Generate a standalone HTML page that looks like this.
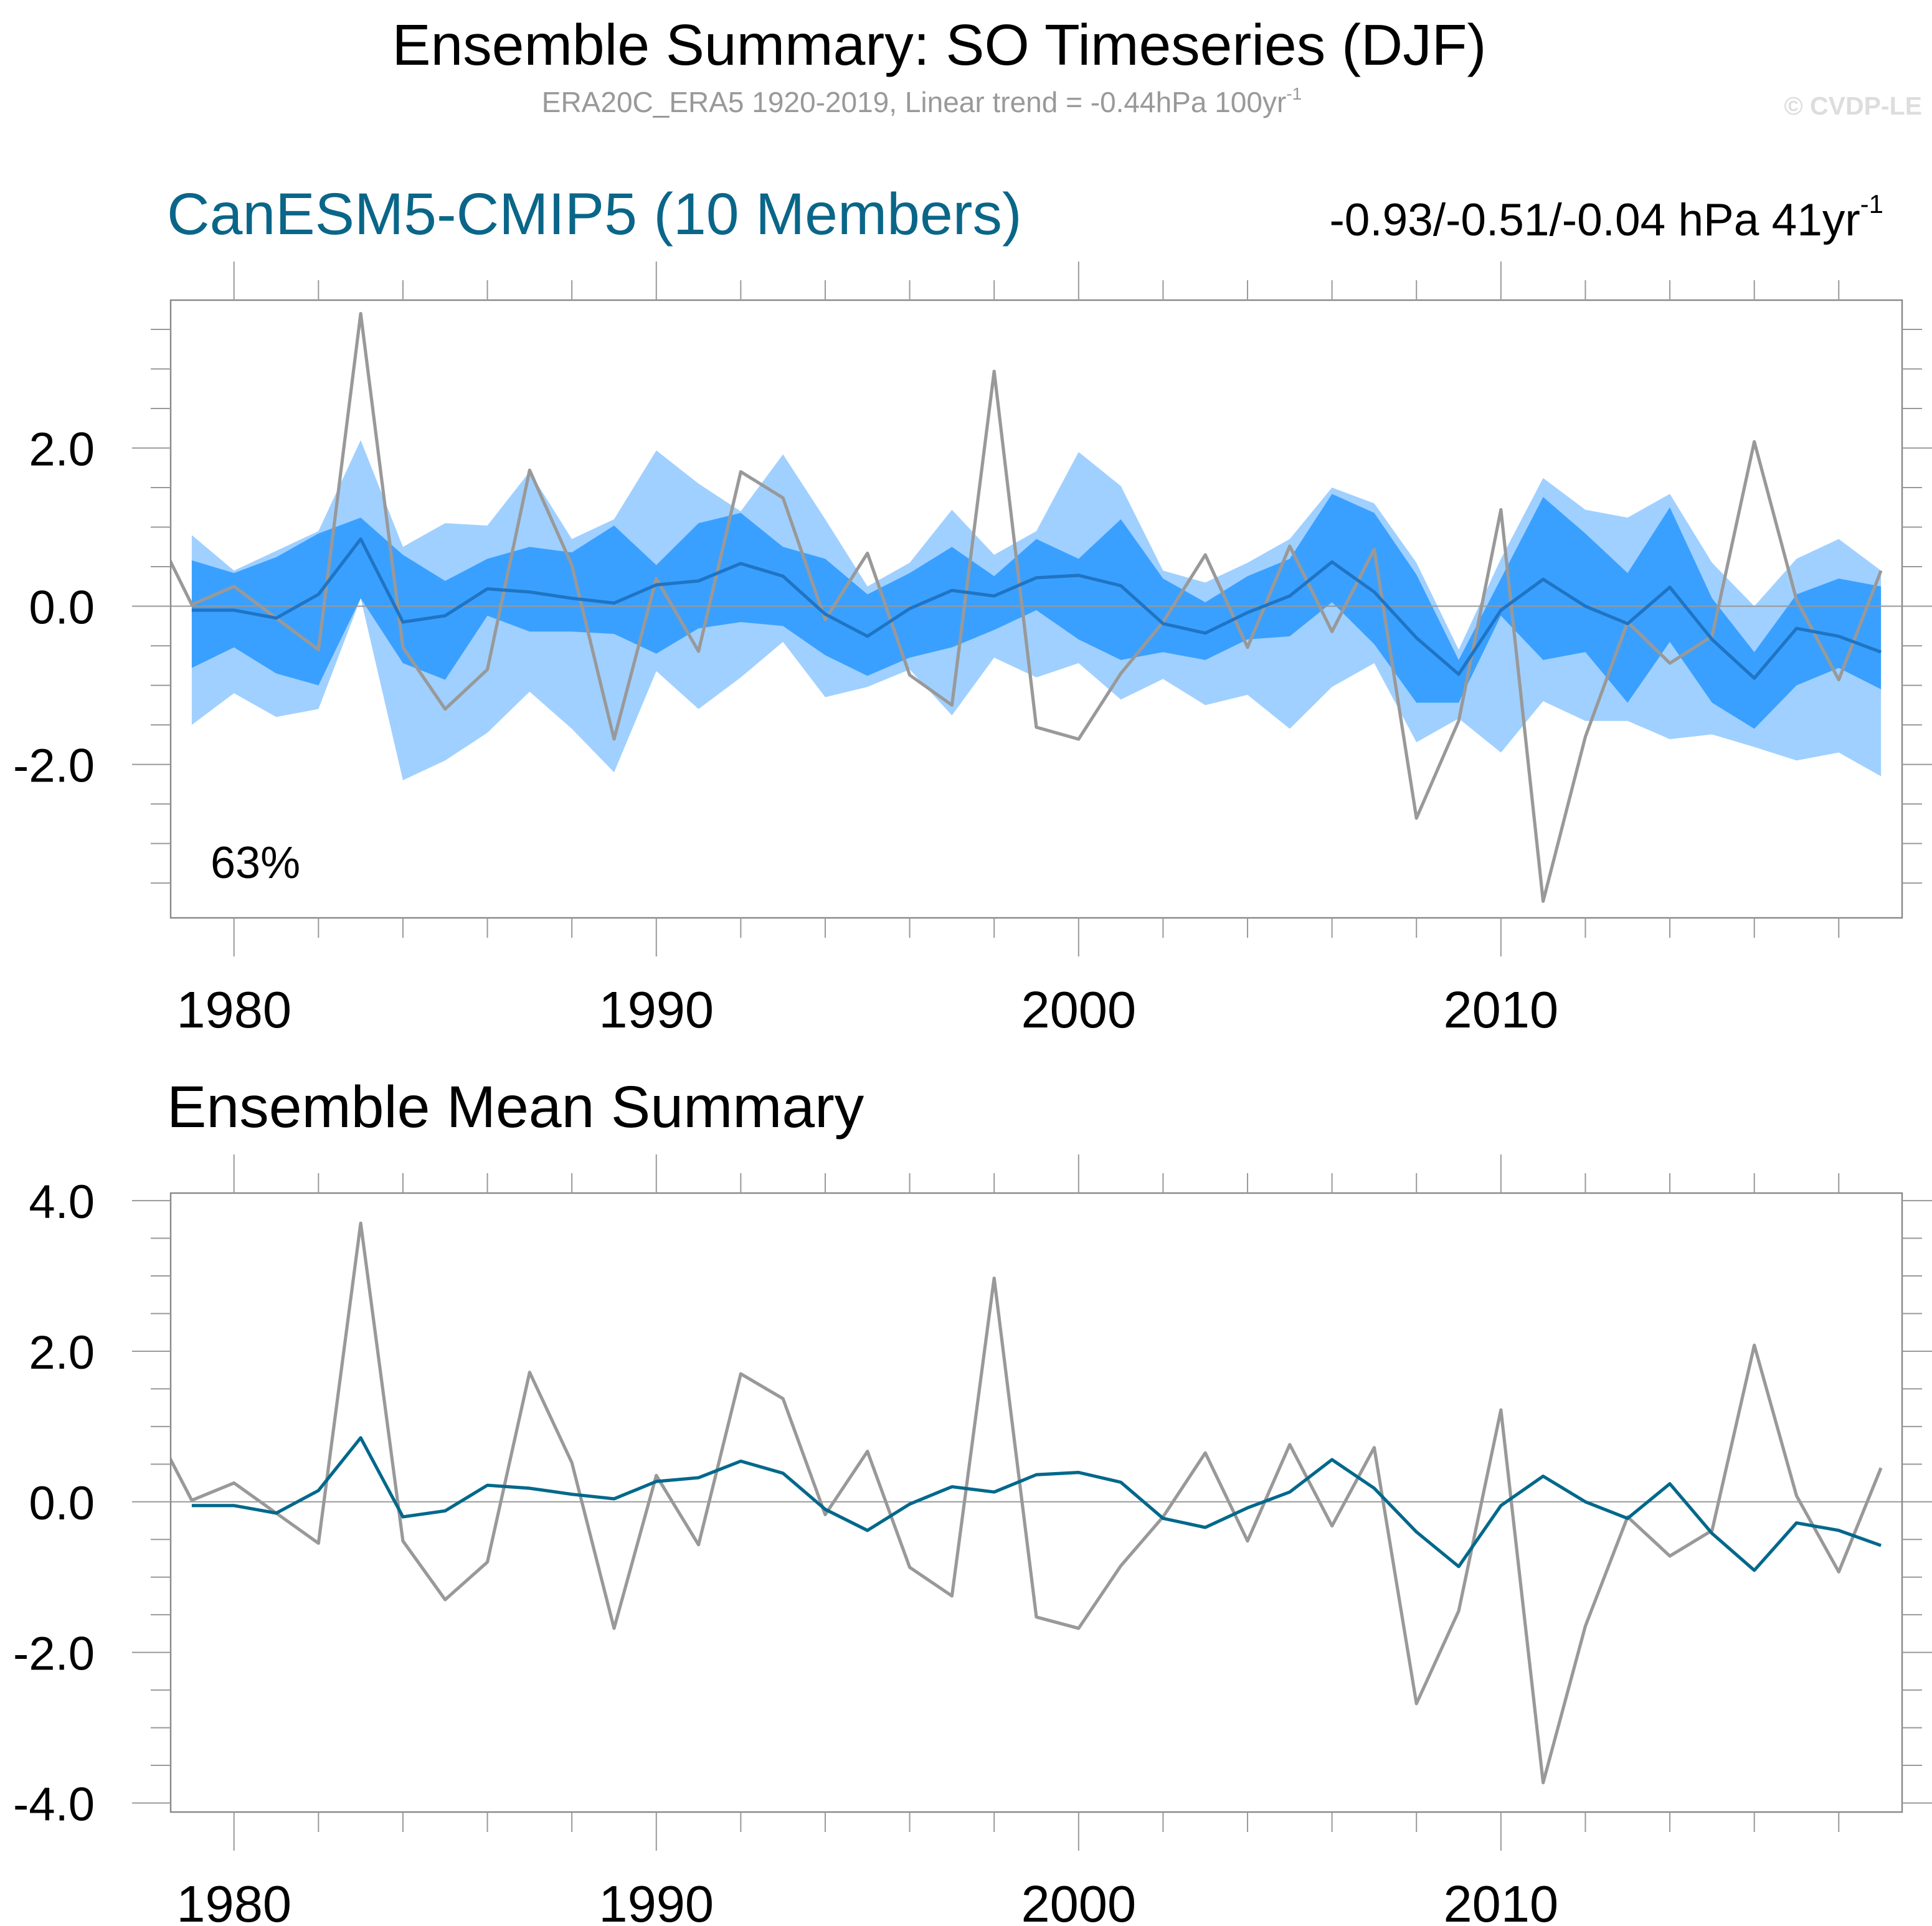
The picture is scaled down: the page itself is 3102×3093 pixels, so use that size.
<!DOCTYPE html>
<html><head><meta charset="utf-8"><style>html,body{margin:0;padding:0;background:#fff}svg{display:block}text{font-family:"Liberation Sans",sans-serif}</style></head>
<body>
<svg id="chart" width="3102" height="3093" viewBox="0 0 1551 1546.5" xmlns="http://www.w3.org/2000/svg">
<text x="754" y="52" font-size="46.5" text-anchor="middle">Ensemble Summary: SO Timeseries (DJF)</text>
<text x="740" y="90" font-size="23" fill="#999" text-anchor="middle">ERA20C_ERA5 1920-2019, Linear trend = -0.44hPa 100yr<tspan font-size="14" dy="-10">-1</tspan></text>
<text x="1543" y="92" font-size="20.5" fill="#ddd" font-weight="bold" text-anchor="end">© CVDP-LE</text>
<text x="134" y="188" font-size="47.5" fill="#0a6688">CanESM5-CMIP5 (10 Members)</text>
<text x="1512" y="189" font-size="36.5" text-anchor="end">-0.93/-0.51/-0.04 hPa 41yr<tspan font-size="21" dy="-18">-1</tspan></text>
<text x="134" y="905" font-size="47.5">Ensemble Mean Summary</text>
<g id="p1"></g>
<g id="p2"></g>
</svg>
<script>
const years=[1979,1980,1981,1982,1983,1984,1985,1986,1987,1988,1989,1990,1991,1992,1993,1994,1995,1996,1997,1998,1999,2000,2001,2002,2003,2004,2005,2006,2007,2008,2009,2010,2011,2012,2013,2014,2015,2016,2017,2018,2019];
const ensMean=[-0.05,-0.05,-0.15,0.15,0.85,-0.2,-0.12,0.22,0.18,0.1,0.04,0.27,0.32,0.54,0.38,-0.1,-0.38,-0.03,0.2,0.13,0.36,0.39,0.26,-0.22,-0.34,-0.08,0.13,0.56,0.18,-0.4,-0.86,-0.05,0.34,0.0,-0.22,0.24,-0.42,-0.91,-0.28,-0.38,-0.58];
const obsYears=[1978,1979,1980,1981,1982,1983,1984,1985,1986,1987,1988,1989,1990,1991,1992,1993,1994,1995,1996,1997,1998,1999,2000,2001,2002,2003,2004,2005,2006,2007,2008,2009,2010,2011,2012,2013,2014,2015,2016,2017,2018,2019];
const obs=[1.1,0.02,0.25,-0.15,-0.55,3.7,-0.52,-1.3,-0.8,1.72,0.52,-1.68,0.35,-0.57,1.7,1.37,-0.17,0.67,-0.87,-1.25,2.97,-1.53,-1.68,-0.85,-0.2,0.65,-0.52,0.76,-0.32,0.72,-2.68,-1.45,1.22,-3.73,-1.65,-0.2,-0.72,-0.38,2.08,0.08,-0.93,0.45];
const maxV=[0.9,0.45,0.7,0.95,2.1,0.75,1.05,1.02,1.7,0.85,1.1,1.97,1.55,1.2,1.92,1.1,0.25,0.55,1.22,0.65,0.95,1.95,1.52,0.45,0.3,0.55,0.85,1.5,1.3,0.55,-0.55,0.6,1.62,1.22,1.12,1.42,0.55,0.0,0.6,0.85,0.45];
const minV=[-1.5,-1.1,-1.4,-1.3,0.1,-2.2,-1.95,-1.6,-1.08,-1.55,-2.1,-0.82,-1.3,-0.9,-0.45,-1.15,-1.02,-0.8,-1.38,-0.65,-0.9,-0.72,-1.18,-0.92,-1.25,-1.12,-1.55,-1.02,-0.72,-1.72,-1.42,-1.85,-1.2,-1.45,-1.45,-1.68,-1.62,-1.78,-1.95,-1.85,-2.15];
const q75=[0.58,0.42,0.62,0.92,1.12,0.65,0.32,0.6,0.75,0.68,1.02,0.52,1.05,1.18,0.75,0.6,0.15,0.42,0.75,0.38,0.85,0.6,1.1,0.35,0.05,0.38,0.6,1.42,1.18,0.4,-0.68,0.35,1.38,0.92,0.42,1.25,0.1,-0.58,0.15,0.35,0.25];
const q25=[-0.78,-0.52,-0.85,-1.0,0.1,-0.72,-0.93,-0.12,-0.32,-0.32,-0.35,-0.6,-0.28,-0.2,-0.25,-0.62,-0.88,-0.65,-0.52,-0.3,-0.05,-0.42,-0.68,-0.58,-0.68,-0.42,-0.38,0.05,-0.48,-1.22,-1.22,-0.12,-0.68,-0.58,-1.22,-0.45,-1.22,-1.55,-1.0,-0.78,-1.05];
const xTickLabels=["1980","1990","2000","2010"];
const p1Ticks=["2.0","0.0","-2.0"];
const p2Ticks=["4.0","2.0","0.0","-2.0","-4.0"];
const NS='http://www.w3.org/2000/svg';
const L=137,R=1527,X0=1978.5,X1=2019.5;
const x=v=>L+(v-X0)/(X1-X0)*(R-L);
function mk(p,t,a){const e=document.createElementNS(NS,t);for(const k in a)e.setAttribute(k,a[k]);p.appendChild(e);return e;}
function panel(g,top,bot,ymin,ymax,ticks,id,bands){
  const y=v=>bot-(v-ymin)/(ymax-ymin)*(bot-top);
  const cp=mk(g,'clipPath',{id:'c'+id});mk(cp,'rect',{x:L,y:top,width:R-L,height:bot-top});
  const plot=mk(g,'g',{'clip-path':'url(#c'+id+')'});
  if(bands){
    let d1='M'+years.map((yr,i)=>x(yr)+','+y(maxV[i])).join('L')+'L'+years.slice().reverse().map((yr,j)=>x(yr)+','+y(minV[years.length-1-j])).join('L')+'Z';
    const b1=mk(plot,'path',{d:d1,fill:'#a0d0ff'});
    
    
    let d2='M'+years.map((yr,i)=>x(yr)+','+y(q75[i])).join('L')+'L'+years.slice().reverse().map((yr,j)=>x(yr)+','+y(q25[years.length-1-j])).join('L')+'Z';
    const b2=mk(plot,'path',{d:d2,fill:'#3aa0ff'});
    
    
  }
  const z=mk(plot,'line',{x1:L,x2:R,y1:y(0),y2:y(0),stroke:'#999','stroke-width':1});
  
  
  const ol=mk(plot,'polyline',{points:obsYears.map((yr,i)=>x(yr)+','+y(obs[i])).join(' '),fill:'none',stroke:'#999','stroke-width':2.6,'stroke-linejoin':'round'});
  
  
  const ml=mk(plot,'polyline',{points:years.map((yr,i)=>x(yr)+','+y(ensMean[i])).join(' '),fill:'none',stroke:bands?'#1f74c4':'#00688b','stroke-width':2.6,'stroke-linejoin':'round'});
  
  
  const fr=mk(g,'rect',{x:L,y:top,width:R-L,height:bot-top,fill:'none',stroke:'#888','stroke-width':1.2});
  
  
  for(let yr=1980;yr<=2018;yr+=2){
    const maj=yr%10===0,len=maj?31:16;
    mk(g,'line',{x1:x(yr),x2:x(yr),y1:top-len,y2:top,stroke:'#999','stroke-width':1});
    mk(g,'line',{x1:x(yr),x2:x(yr),y1:bot,y2:bot+len,stroke:'#999','stroke-width':1});
  }
  xTickLabels.forEach(s=>{const t=mk(g,'text',{x:x(+s),y:bot+88,'font-size':41.5,'text-anchor':'middle'});t.textContent=s;
    
    });
  for(let v=Math.ceil(ymin*2)/2;v<=ymax;v+=0.5){
    const maj=Math.abs(v%2)<1e-6,len=maj?31:16;
    mk(g,'line',{x1:L-len,x2:L,y1:y(v),y2:y(v),stroke:'#999','stroke-width':1});
    mk(g,'line',{x1:R,x2:R+len,y1:y(v),y2:y(v),stroke:'#999','stroke-width':1});
  }
  ticks.forEach(s=>{const t=mk(g,'text',{x:76,y:y(+s)+14,'font-size':38,'text-anchor':'end'});t.textContent=s;
    
    });
}
panel(document.getElementById('p1'),241,737,-3.94,3.87,p1Ticks,1,true);
panel(document.getElementById('p2'),958,1455,-4.12,4.1,p2Ticks,2,false);
const pct=mk(document.getElementById('p1'),'text',{x:169,y:705,'font-size':36});pct.textContent='63%';


</script>
</body></html>
